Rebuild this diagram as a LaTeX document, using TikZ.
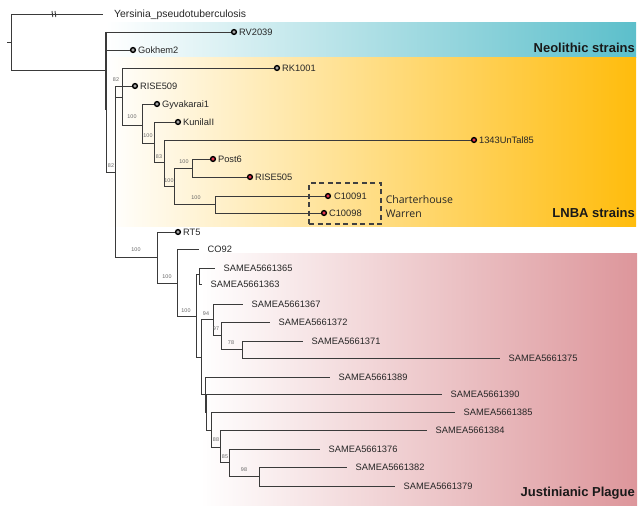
\documentclass[tikz,border=0pt]{standalone}
\usepackage{fontspec}
\setmainfont{Liberation Sans}
\newfontfamily\boxfont{Open Sans}
\usetikzlibrary{positioning}

\definecolor{branchgray}{HTML}{3A3A3A}
\definecolor{neoblue}{RGB}{92,191,203}
\definecolor{neomid}{RGB}{128,204,214}
\definecolor{lnbaorange}{RGB}{255,188,12}
\definecolor{lnbamid}{RGB}{255,213,100}
\definecolor{justpink}{RGB}{221,150,155}
\definecolor{justmid}{RGB}{234,190,193}
\definecolor{tipred}{RGB}{226,52,78}
\definecolor{tipgray}{RGB}{165,165,165}

\begin{document}
\begin{tikzpicture}[x=1pt, y=-1pt,
    branch/.style={draw=branchgray, line width=0.9pt},
    tip/.style={circle, draw=black, line width=1.4pt, fill=tipgray, inner sep=0pt, minimum size=4.8pt},
    redtip/.style={tip, fill=tipred},
    tiplab/.style={inner xsep=1.8pt, inner ysep=0pt, text height=6.6pt, text depth=0pt, font=\fontsize{9.3}{10}\selectfont, text=black!85},
    leaf/.style={tiplab, anchor=west, inner xsep=8.5pt},
    boot/.style={font=\fontsize{5.4}{6}\selectfont, text=black!60, inner sep=0pt},
    clade/.style={anchor=base east, inner sep=0pt, font=\bfseries\fontsize{13}{14}\selectfont, text=black!90}
]
\useasboundingbox (0,0) rectangle (640,511);

% Baender
\shade[left color=white, middle color=neomid, right color=neoblue] (106,23) rectangle (636,58);
\shade[left color=white, middle color=lnbamid, right color=lnbaorange] (106,58) rectangle (636,226);
\shade[left color=white, middle color=justmid, right color=justpink] (200,253) rectangle (637,505);

\node[clade] (neo) at (635,53) {Neolithic strains};
\node[clade] (lnba) at (635,217) {LNBA strains};
\node[clade] (just) at (635,496) {Justinianic Plague};

% innere Knoten
\coordinate (root) at (11,42);
\coordinate (nA) at (106,70);
\coordinate (nB) at (115,172);
\coordinate (na) at (122,97);
\coordinate (nb) at (142,125);
\coordinate (nc) at (154,143);
\coordinate (nd) at (164,162);
\coordinate (ne) at (174,186);
\coordinate (nf) at (192,168);
\coordinate (ng) at (215,204);
\coordinate (nJ1) at (157,257);
\coordinate (nJ2) at (177,283);
\coordinate (nJ3) at (196,316);
\coordinate (n63) at (199,274);
\coordinate (l1) at (201,357);
\coordinate (n94) at (213,319);
\coordinate (n97) at (221,335);
\coordinate (n78) at (242,349);
\coordinate (l2) at (205,394);
\coordinate (l3) at (206.5,412);
\coordinate (l4) at (211,430);
\coordinate (l5) at (220,447);
\coordinate (l6) at (229,462);
\coordinate (l7) at (259,476);

% Blaetter mit Punkt
\node[leaf, inner xsep=11pt, text height=7.4pt, font=\fontsize{10.4}{11}\selectfont] (yers) at (103,14) {Yersinia\_pseudotuberculosis};
\node[tip] (rv2039) at (234,32) {};
\node[tip] (gokhem2) at (133,50) {};
\node[tip] (rk1001) at (277,68) {};
\node[tip] (rise509) at (135,86) {};
\node[tip] (gyva) at (157,104) {};
\node[tip] (kunila) at (178,122) {};
\node[redtip] (untal) at (474,140) {};
\node[redtip] (post6) at (213,159) {};
\node[redtip] (rise505) at (250,177) {};
\node[redtip] (c10091) at (328,196) {};
\node[redtip] (c10098) at (324,213) {};
\node[tip] (rt5) at (178,232) {};

\node[tiplab, right=0pt of rv2039] (rv2039t) {RV2039};
\node[tiplab, right=0pt of gokhem2] (gokhem2t) {Gokhem2};
\node[tiplab, right=0pt of rk1001] (rk1001t) {RK1001};
\node[tiplab, right=0pt of rise509] (rise509t) {RISE509};
\node[tiplab, right=0pt of gyva] (gyvat) {Gyvakarai1};
\node[tiplab, right=0pt of kunila] (kunilat) {KunilaII};
\node[tiplab, right=0pt of untal] (untalt) {1343UnTal85};
\node[tiplab, right=0pt of post6] (post6t) {Post6};
\node[tiplab, right=0pt of rise505] (rise505t) {RISE505};
\node[tiplab, right=1pt of c10091] (c10091t) {C10091};
\node[tiplab, right=0pt of c10098] (c10098t) {C10098};
\node[tiplab, right=0pt of rt5] (rt5t) {RT5};

% Blaetter ohne Punkt
\node[leaf] (co92) at (199,249) {CO92};
\node[leaf] (s65) at (215,268) {SAMEA5661365};
\node[leaf] (s63) at (202,284) {SAMEA5661363};
\node[leaf] (s67) at (243,304) {SAMEA5661367};
\node[leaf] (s72) at (270,322) {SAMEA5661372};
\node[leaf] (s71) at (303,341) {SAMEA5661371};
\node[leaf] (s75) at (500,358) {SAMEA5661375};
\node[leaf] (s89) at (330,377) {SAMEA5661389};
\node[leaf] (s90) at (442,394) {SAMEA5661390};
\node[leaf] (s85) at (455,412) {SAMEA5661385};
\node[leaf] (s84) at (427,430) {SAMEA5661384};
\node[leaf] (s76) at (320,449) {SAMEA5661376};
\node[leaf] (s82) at (347,467) {SAMEA5661382};
\node[leaf] (s79) at (395,486) {SAMEA5661379};

% Aeste
\draw[branch] (root) -- ++(-4,0);
\draw[branch] (root) |- (yers) (root) |- (nA);
\draw[branch] (52,11) -- (52.8,17) (55,11) -- (55.8,17);
\draw[branch] (nA) |- (rv2039) (nA) |- (gokhem2) (nA) |- (nB);
\draw[branch, line width=1.8pt] (nA |- rv2039) -- ++(0,78);
\draw[branch] (nB) |- (rise509) (nB) |- (na) (nB) |- (nJ1);
\draw[branch] (na) |- (rk1001) (na) |- (nb);
\draw[branch] (nb) |- (gyva) (nb) |- (nc);
\draw[branch] (nc) |- (kunila) (nc) |- (nd);
\draw[branch] (nd) |- (untal) (nd) |- (ne);
\draw[branch] (ne) |- (nf) (ne) |- (ng);
\draw[branch] (nf) |- (post6) (nf) |- (rise505);
\draw[branch] (ng) |- (c10091) (ng) |- (c10098);
\draw[branch] (nJ1) |- (rt5) (nJ1) |- (nJ2);
\draw[branch] (nJ2) |- (co92) (nJ2) |- (nJ3);
\draw[branch] (nJ3) |- (n63) (nJ3) |- (l1);
\draw[branch] (n63) |- (s65) (n63) |- (s63);
\draw[branch] (l1) |- (n94) (l1) |- (l2);
\draw[branch] (n94) |- (s67) (n94) |- (n97);
\draw[branch] (n97) |- (s72) (n97) |- (n78);
\draw[branch] (n78) |- (s71) (n78) |- (s75);
\draw[branch] (l2) |- (s89) (l2) |- (l3);
\draw[branch] (l3) |- (s90) (l3) |- (l4);
\draw[branch] (l4) |- (s85) (l4) |- (l5);
\draw[branch] (l5) |- (s84) (l5) |- (l6);
\draw[branch] (l6) |- (s76) (l6) |- (l7);
\draw[branch] (l7) |- (s82) (l7) |- (s79);

% Bootstrap-Werte
\node[boot] (bs1) at (116,80) {82};
\node[boot] (bs2) at (111,166) {82};
\node[boot] (bs3) at (132,117) {100};
\node[boot] (bs4) at (148,136) {100};
\node[boot] (bs5) at (159,157) {83};
\node[boot] (bs6) at (169,181) {100};
\node[boot] (bs7) at (184,162) {100};
\node[boot] (bs8) at (196,198) {100};
\node[boot] (bs9) at (136,250) {100};
\node[boot] (bs10) at (167,277) {100};
\node[boot] (bs11) at (186,311) {100};
\node[boot] (bs12) at (206,314) {94};
\node[boot] (bs13) at (216,329) {97};
\node[boot] (bs14) at (231,343) {78};
\node[boot] (bs15) at (216,440) {88};
\node[boot] (bs16) at (225,457) {85};
\node[boot] (bs17) at (244,470) {98};

% Charterhouse Warren
\node[draw=black!75, dash pattern=on 5pt off 3.5pt, line width=1.1pt, minimum width=72pt, minimum height=41pt, inner sep=0pt] (cwbox) at (345,203.5) {};
\node[right=4pt of cwbox, yshift=-3pt, align=left, inner sep=0pt, font=\boxfont\fontsize{10.5}{14}\selectfont, text=black!85] (cwlab) {Charterhouse\\Warren};
\end{tikzpicture}
\end{document}
